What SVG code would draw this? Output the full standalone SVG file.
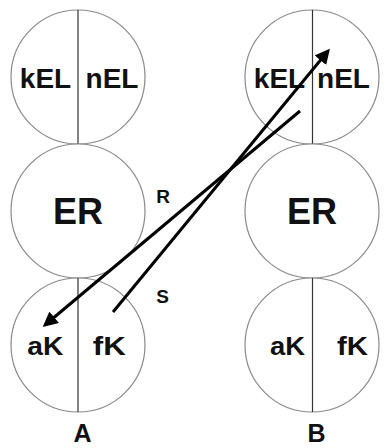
<svg xmlns="http://www.w3.org/2000/svg" width="384" height="448" viewBox="0 0 384 448">
<defs>
<style>
.c{fill:#fff;stroke:#8a8a8a;stroke-width:1.2}
.d{stroke:#333;stroke-width:1.2}
.t{font-family:"Liberation Sans",Arial,sans-serif;font-weight:bold;fill:#111;text-anchor:middle}
.m{font-size:28px}
.s{font-size:25px}
.e{font-size:36px}
.l{font-size:19px}
.ab{font-size:25px}
.cn{stroke:#000;stroke-width:3;fill:none;marker-end:url(#ah)}
</style>
<marker id="ah" viewBox="0 0 10 10" refX="8" refY="5" markerWidth="5" markerHeight="5" orient="auto" markerUnits="strokeWidth">
<path d="M0,0 L10,5 L0,10 z" fill="#000"/>
</marker>
</defs>
<rect width="384" height="448" fill="#fff"/>
<g id="A-top">
<circle class="c" cx="78" cy="77" r="67"/>
<line class="d" x1="78" y1="10" x2="78" y2="144"/>
<text class="t m" x="45.5" y="88">kEL</text>
<text class="t m" x="112" y="88">nEL</text>
</g>
<g id="A-ER">
<circle class="c" cx="78" cy="211" r="67"/>
<text class="t e" x="78" y="224">ER</text>
</g>
<g id="A-bottom">
<circle class="c" cx="78" cy="345" r="67"/>
<line class="d" x1="78" y1="278" x2="78" y2="412"/>
<text class="t s" x="45.3" y="355" textLength="36" lengthAdjust="spacingAndGlyphs">aK</text>
<text class="t s" x="109.3" y="355" textLength="33" lengthAdjust="spacingAndGlyphs">fK</text>
</g>
<g id="B-top">
<circle class="c" cx="312" cy="77" r="67"/>
<line class="d" x1="312.5" y1="10" x2="312.5" y2="144"/>
<text class="t m" x="279.5" y="88">kEL</text>
<text class="t m" x="343.5" y="88">nEL</text>
</g>
<g id="B-ER">
<circle class="c" cx="312" cy="211" r="67"/>
<text class="t e" x="312" y="224">ER</text>
</g>
<g id="B-bottom">
<circle class="c" cx="312" cy="345" r="67"/>
<line class="d" x1="312.5" y1="278" x2="312.5" y2="412"/>
<text class="t s" x="287.5" y="355" textLength="35" lengthAdjust="spacingAndGlyphs">aK</text>
<text class="t s" x="352.5" y="355" textLength="31" lengthAdjust="spacingAndGlyphs">fK</text>
</g>
<g id="labels">
<text class="t ab" x="82.5" y="442">A</text>
<text class="t ab" x="316.5" y="442">B</text>
</g>
<g id="connectors">
<line class="cn" x1="113" y1="312" x2="328" y2="51"/>
<line class="cn" x1="300" y1="111" x2="45" y2="325"/>
<text class="t l" x="163" y="203">R</text>
<text class="t l" x="162.5" y="303">S</text>
</g>
</svg>
